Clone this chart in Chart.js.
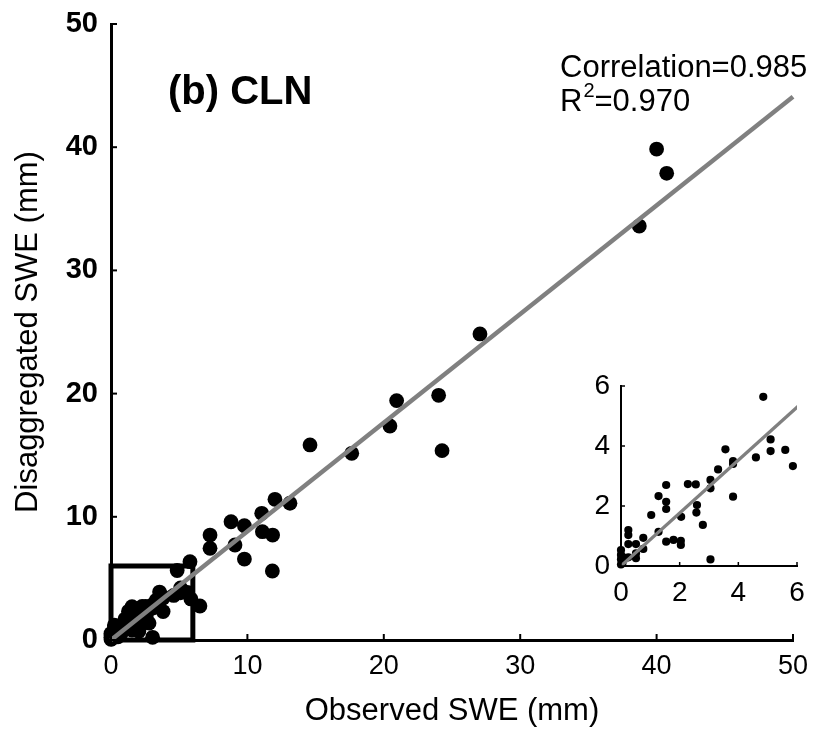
<!DOCTYPE html>
<html><head><meta charset="utf-8">
<script src="https://cdn.jsdelivr.net/npm/chart.js@4"></script>
<style>
html,body{margin:0;padding:0;background:#fff;}
#wrap{position:relative;width:813px;height:733px;overflow:hidden;}
#main{position:absolute;left:0;top:0;}
#inset{position:absolute;left:560px;top:360px;}
</style></head><body>
<div id="wrap"><canvas id="main" width="813" height="733"></canvas><canvas id="inset" width="253" height="260"></canvas></div>
<script>
// ---- data ----
const observedSWE = [40.0, 40.74, 38.73, 27.05, 20.94, 24.02, 20.45, 24.27, 14.59, 17.65,
  12.02, 13.12, 11.05, 8.8, 9.78, 7.26, 7.26, 9.09, 11.1, 11.85,
  9.78, 11.83, 5.79, 6.52, 4.85, 5.1, 5.1, 5.6, 5.86, 4.6,
  3.56, 3.82, 3.82, 3.31, 3.05, 3.05, 2.55, 3.82, 2.28, 1.54,
  1.28, 1.54, 1.54, 2.59, 2.57, 1.03, 2.05, 2.79, 1.28, 0.25,
  0.25, 0.76, 1.54, 1.79, 2.04, 2.04, 0.25, 0.51, 0.76, 0.51,
  0.51, 0, 0, 0, 0.08, 0.25, 3.05, 0.05, 0];
const disaggregatedSWE = [39.85, 37.88, 33.6, 24.84, 19.43, 19.86, 17.37, 15.37, 15.83, 15.15,
  11.42, 11.1, 10.28, 9.6, 9.28, 8.52, 7.44, 7.71, 8.79, 8.52,
  6.57, 5.6, 6.36, 2.76, 5.64, 4.22, 3.83, 3.87, 3.33, 3.62,
  3.89, 3.5, 3.4, 3.22, 2.87, 2.59, 2.72, 2.31, 2.73, 2.7,
  2.33, 2.14, 1.9, 2.03, 1.78, 1.7, 1.64, 1.37, 1.14, 1.2,
  1.03, 0.94, 0.81, 0.87, 0.84, 0.7, 0.73, 0.73, 0.57, 0.42,
  0.26, 0.53, 0.37, 0.22, 0.29, 0.29, 0.22, 0.1, 0.05];
const fitX = [0, 50];
const fitY = [0, 44.1];
const zoomBoxX = [0, 6, 6, 0, 0];
const zoomBoxY = [0, 0, 6, 6, 0];
const mainTicks = [0, 10, 20, 30, 40, 50];
const insetTicks = [0, 2, 4, 6];
const insetMax = 6;
const panelLabel = '(b) CLN';
const correlationLabel = 'Correlation=0.985';
const r2Label = '0.970';
const xTitle = 'Observed SWE (mm)';
const yTitle = 'Disaggregated SWE (mm)';

const FONT = "'Liberation Sans', Arial, Helvetica, sans-serif";
const pts = observedSWE.map((x, i) => ({x, y: disaggregatedSWE[i]}));
const fitPts = fitX.map((x, i) => ({x, y: fitY[i]}));
const boxPts = zoomBoxX.map((x, i) => ({x, y: zoomBoxY[i]}));
const insetPts = pts.filter(p => p.x <= insetMax && p.y <= insetMax);

const innerTicks = {
  id: 'innerTicks',
  afterDatasetsDraw(chart, args, opts) {
    const {ctx, chartArea, scales} = chart;
    ctx.save();
    ctx.strokeStyle = '#000';
    ctx.lineWidth = opts.width;
    scales.x.ticks.forEach(t => {
      const x = scales.x.getPixelForValue(t.value);
      ctx.beginPath(); ctx.moveTo(x, chartArea.bottom); ctx.lineTo(x, chartArea.bottom - opts.len); ctx.stroke();
    });
    scales.y.ticks.forEach(t => {
      const y = scales.y.getPixelForValue(t.value);
      ctx.beginPath(); ctx.moveTo(chartArea.left, y); ctx.lineTo(chartArea.left + opts.len, y); ctx.stroke();
    });
    ctx.restore();
  }
};

const annotations = {
  id: 'annotations',
  afterDraw(chart) {
    const {ctx} = chart;
    ctx.save();
    ctx.fillStyle = '#000';
    ctx.textBaseline = 'alphabetic';
    ctx.textAlign = 'left';
    ctx.font = 'bold 40px ' + FONT;
    ctx.fillText(panelLabel, 168, 104);
    ctx.font = '31px ' + FONT;
    ctx.fillText(correlationLabel, 560, 77);
    ctx.fillText('R', 560, 111);
    let w = ctx.measureText('R').width;
    ctx.font = '20px ' + FONT;
    ctx.fillText('2', 560 + w + 1, 97);
    const w2 = ctx.measureText('2').width;
    ctx.font = '31px ' + FONT;
    ctx.fillText('=' + r2Label, 560 + w + w2 + 1, 111);
    ctx.restore();
  }
};

function tickSetter(arr) {
  return s => { s.ticks = arr.map(v => ({value: v})); };
}
function fitX_(h) {
  return s => { s.height = h; s.paddingLeft = 0; s.paddingRight = 0; };
}
function fitY_(w) {
  return s => { s.width = w; s.paddingTop = 0; s.paddingBottom = 0; };
}

new Chart(document.getElementById('main'), {
  type: 'scatter',
  data: {datasets: [
    {data: fitPts, showLine: true, borderColor: '#808080', borderWidth: 4.5, pointRadius: 0, order: 0, clip: false},
    {data: boxPts, showLine: true, borderColor: '#000', borderWidth: 5, pointRadius: 0, order: 1, clip: false, tension: 0},
    {data: pts, backgroundColor: '#000', borderWidth: 0, pointRadius: 7.4, order: 2, clip: false}
  ]},
  options: {
    responsive: false, animation: false, devicePixelRatio: 1,
    layout: {padding: {left: 0, right: 20, top: 24, bottom: 0}},
    plugins: {legend: {display: false}, tooltip: {enabled: false}, innerTicks: {len: 6, width: 2}},
    scales: {
      x: {
        type: 'linear', min: 0, max: 50,
        afterBuildTicks: tickSetter(mainTicks),
        afterFit: fitX_(93),
        grid: {display: false, drawTicks: false},
        border: {display: true, color: '#000', width: 3},
        ticks: {padding: 10, color: '#000', font: {family: FONT, size: 27}},
        title: {display: true, text: xTitle, color: '#000', font: {family: FONT, size: 31}, padding: {top: 0, bottom: 3}}
      },
      y: {
        type: 'linear', min: 0, max: 50,
        afterBuildTicks: tickSetter(mainTicks),
        afterFit: fitY_(111),
        grid: {display: false, drawTicks: false},
        border: {display: true, color: '#000', width: 3},
        ticks: {padding: 13, color: '#000', font: {family: FONT, size: 29, weight: 'bold'}},
        title: {display: true, text: yTitle, color: '#000', font: {family: FONT, size: 31}, padding: {top: 10, bottom: 0}}
      }
    }
  },
  plugins: [innerTicks, annotations]
});

new Chart(document.getElementById('inset'), {
  type: 'scatter',
  data: {datasets: [
    {data: fitPts, showLine: true, borderColor: '#808080', borderWidth: 3.2, pointRadius: 0, order: 0},
    {data: insetPts, backgroundColor: '#000', borderWidth: 0, pointRadius: 4.1, order: 1, clip: false}
  ]},
  options: {
    responsive: false, animation: false, devicePixelRatio: 1,
    layout: {padding: {left: 0, right: 16, top: 26, bottom: 0}},
    plugins: {legend: {display: false}, tooltip: {enabled: false}, innerTicks: {len: 4, width: 1.5}},
    scales: {
      x: {
        type: 'linear', min: 0, max: insetMax,
        afterBuildTicks: tickSetter(insetTicks),
        afterFit: fitX_(54),
        grid: {display: false, drawTicks: false},
        border: {display: true, color: '#000', width: 2},
        ticks: {padding: 10, color: '#000', font: {family: FONT, size: 28}}
      },
      y: {
        type: 'linear', min: 0, max: insetMax,
        afterBuildTicks: tickSetter(insetTicks),
        afterFit: fitY_(61),
        grid: {display: false, drawTicks: false},
        border: {display: true, color: '#000', width: 2},
        ticks: {padding: 11, color: '#000', font: {family: FONT, size: 28}}
      }
    }
  },
  plugins: [innerTicks]
});
</script>
</body></html>
